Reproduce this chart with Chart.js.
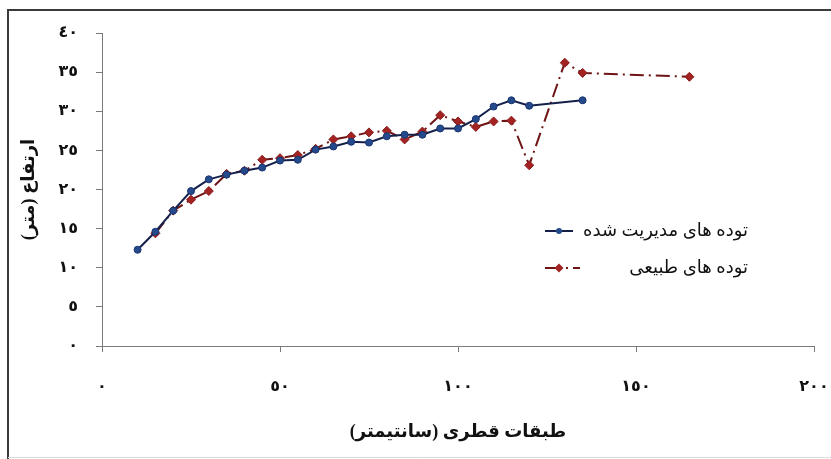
<!DOCTYPE html>
<html>
<head>
<meta charset="utf-8">
<script src="https://cdn.jsdelivr.net/npm/chart.js@4.4.0/dist/chart.umd.min.js"></script>
<style>
 body { margin: 0; background: #fff; }
 canvas { display: block; }
</style>
</head>
<body>
<canvas id="c" width="831" height="459" dir="rtl"></canvas>
<script>
// diameter classes (cm) and mean height (m)
const managedX = [10, 15, 20, 25, 30, 35, 40, 45, 50, 55, 60, 65, 70, 75, 80, 85, 90, 95, 100, 105, 110, 115, 120, 135];
const managedY = [12.3, 14.6, 17.3, 19.8, 21.3, 21.9, 22.4, 22.8, 23.7, 23.8, 25.1, 25.5, 26.1, 26.0, 26.8, 27.0, 27.0, 27.8, 27.8, 29.0, 30.6, 31.4, 30.7, 31.4];

const naturalX = [15, 20, 25, 30, 35, 40, 45, 50, 55, 60, 65, 70, 75, 80, 85, 90, 95, 100, 105, 110, 115, 120, 130, 135, 165];
const naturalY = [14.4, 17.3, 18.7, 19.8, 22.0, 22.4, 23.8, 24.0, 24.4, 25.2, 26.4, 26.8, 27.3, 27.5, 26.4, 27.4, 29.5, 28.7, 28.0, 28.7, 28.8, 23.1, 36.2, 34.9, 34.4];

const seriesNames = ['توده های مدیریت شده', 'توده های طبیعی'];
const xTickLabels = ['٠', '٥٠', '١٠٠', '١٥٠', '٢٠٠'];
const yTickLabels = ['٠', '٥', '١٠', '١٥', '٢٠', '٢٥', '٣٠', '٣٥', '٤٠'];
const xTitle = 'طبقات قطری (سانتیمتر)';
const yTitle = 'ارتفاع (متر)';

const toPoints = (xs, ys) => xs.map((x, i) => ({ x: x, y: ys[i] }));

const FONT = "'Times New Roman', 'Liberation Serif', 'DejaVu Sans', serif";

// frame around the figure
const framePlugin = {
 id: 'frame',
 beforeDraw(chart) {
  const ctx = chart.ctx;
  ctx.save();
  ctx.fillStyle = '#fff';
  ctx.fillRect(0, 0, chart.width, chart.height);
  ctx.strokeStyle = '#3a3a3a';
  ctx.lineWidth = 2;
  ctx.beginPath();
  ctx.moveTo(8, chart.height);
  ctx.lineTo(8, 10);
  ctx.lineTo(chart.width, 10);
  ctx.stroke();
  ctx.strokeStyle = '#ddd';
  ctx.lineWidth = 1;
  ctx.beginPath();
  ctx.moveTo(8, 457.5);
  ctx.lineTo(chart.width, 457.5);
  ctx.stroke();
  ctx.restore();
 }
};

// legend sitting inside the plot, sample on the left, rtl text on the right
const legendPlugin = {
 id: 'insideLegend',
 afterDraw(chart) {
  const ctx = chart.ctx;
  const rows = [231, 268];
  chart.data.datasets.forEach((ds, i) => {
   const y = rows[i];
   ctx.save();
   ctx.strokeStyle = ds.borderColor;
   ctx.lineWidth = 2;
   ctx.setLineDash(i == 1 ? [16, 5, 2, 5] : []);
   ctx.beginPath();
   ctx.moveTo(545, y);
   ctx.lineTo(i == 1 ? 580 : 573, y);
   ctx.stroke();
   ctx.setLineDash([]);
   ctx.fillStyle = ds.pointBackgroundColor;
   ctx.beginPath();
   if (i == 1) {
    ctx.moveTo(559, y - 4.5); ctx.lineTo(563.5, y); ctx.lineTo(559, y + 4.5); ctx.lineTo(554.5, y);
   } else {
    ctx.arc(559, y, 3, 0, Math.PI * 2);
   }
   ctx.closePath();
   ctx.fill();
   ctx.direction = 'rtl';
   ctx.textAlign = 'right';
   ctx.textBaseline = 'middle';
   ctx.fillStyle = '#111';
   ctx.font = "18px " + FONT;
   ctx.fillText(ds.label, 748, y);
   ctx.restore();
  });
 }
};

new Chart(document.getElementById('c'), {
 type: 'line',
 data: {
  datasets: [
   {
    label: seriesNames[0],
    data: toPoints(managedX, managedY),
    borderColor: '#14204a',
    backgroundColor: '#254a8c',
    pointBackgroundColor: '#254a8c',
    pointBorderColor: '#1a3570',
    pointBorderWidth: 1,
    pointRadius: 3.5,
    borderWidth: 2,
    pointStyle: 'circle',
    tension: 0
   },
   {
    label: seriesNames[1],
    data: toPoints(naturalX, naturalY),
    borderColor: '#6e1414',
    backgroundColor: '#a32323',
    pointBackgroundColor: '#a32323',
    pointBorderColor: '#8a1c1c',
    pointBorderWidth: 1,
    pointRadius: 4.5,
    borderWidth: 2,
    borderDash: [14, 5, 2, 5],
    pointStyle: 'rectRot',
    tension: 0
   }
  ]
 },
 options: {
  responsive: false,
  animation: false,
  devicePixelRatio: 1,
  layout: { padding: { left: 10, top: 33, right: 17, bottom: 0 } },
  plugins: {
   legend: { display: false },
   tooltip: { enabled: false }
  },
  scales: {
   x: {
    type: 'linear',
    min: 0,
    max: 200,
    afterFit: (s) => { s.height = 113; s.paddingLeft = 0; s.paddingRight = 0; },
    grid: { display: true, drawOnChartArea: false, drawTicks: true, tickLength: 6, color: '#7a7a7a' },
    border: { display: true, color: '#7a7a7a', width: 1 },
    ticks: {
     stepSize: 50,
     padding: 25,
     color: '#111',
     font: { family: FONT, size: 16, weight: 'bold' },
     maxRotation: 0,
     callback: (v) => xTickLabels[v / 50]
    },
    title: {
     display: true,
     text: xTitle,
     color: '#111',
     font: { family: FONT, size: 18, weight: 'bold' },
     padding: { top: 0, bottom: 16 }
    }
   },
   y: {
    type: 'linear',
    min: 0,
    max: 40,
    afterFit: (s) => { s.width = 92; s.paddingTop = 0; s.paddingBottom = 0; },
    grid: { display: true, drawOnChartArea: false, drawTicks: true, tickLength: 6, color: '#7a7a7a' },
    border: { display: true, color: '#7a7a7a', width: 1 },
    ticks: {
     stepSize: 5,
     padding: 18,
     color: '#111',
     font: { family: FONT, size: 16, weight: 'bold' },
     callback: (v) => yTickLabels[v / 5]
    },
    title: {
     display: true,
     text: yTitle,
     color: '#111',
     font: { family: FONT, size: 18, weight: 'bold' },
     padding: { top: 9, bottom: 0 }
    }
   }
  }
 },
 plugins: [framePlugin, legendPlugin]
});
</script>
</body>
</html>
